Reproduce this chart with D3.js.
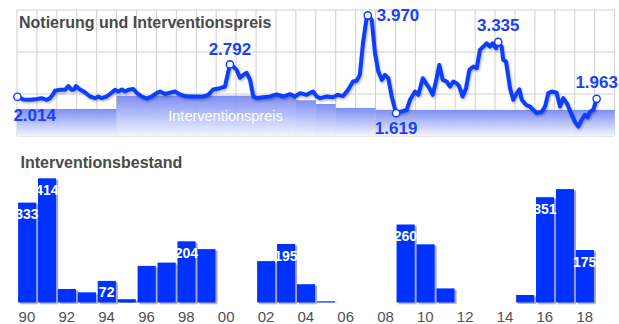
<!DOCTYPE html>
<html>
<head>
<meta charset="utf-8">
<script src="https://cdn.jsdelivr.net/npm/d3@7"></script>
<style>
  html, body { margin: 0; padding: 0; background: #fff; }
  svg { display: block; }
</style>
</head>
<body>
<svg id="chart" width="619" height="324"></svg>
<script>
// Market quotation (€/kg), sampled points: decimal year and value
const priceYears = [
  1990.02, 1990.32, 1990.65, 1990.99, 1991.24, 1991.49, 1991.66, 1991.82, 1991.91, 1992.16,
  1992.41, 1992.58, 1992.75, 1992.86, 1992.96, 1993.16, 1993.41, 1993.66, 1993.92, 1994.08,
  1994.25, 1994.50, 1994.67, 1994.92, 1995.09, 1995.26, 1995.42, 1995.59, 1995.84, 1996.01,
  1996.26, 1996.51, 1996.76, 1997.01, 1997.18, 1997.43, 1997.68, 1997.93, 1998.18, 1998.43,
  1998.68, 1999.02, 1999.35, 1999.60, 1999.85, 2000.19, 2000.44, 2000.61, 2000.69, 2000.86,
  2001.03, 2001.19, 2001.36, 2001.53, 2001.70, 2001.86, 2002.03, 2002.36, 2002.70, 2003.04,
  2003.37, 2003.70, 2003.96, 2004.21, 2004.54, 2004.86, 2005.05, 2005.21, 2005.55, 2005.86,
  2006.11, 2006.37, 2006.62, 2006.87, 2007.05, 2007.21, 2007.37, 2007.56, 2007.61, 2007.81,
  2007.97, 2008.14, 2008.31, 2008.47, 2008.64, 2008.81, 2009.03, 2009.23, 2009.56, 2009.73,
  2009.98, 2010.15, 2010.37, 2010.53, 2010.70, 2010.87, 2011.03, 2011.20, 2011.37, 2011.57,
  2011.74, 2011.90, 2012.07, 2012.20, 2012.37, 2012.54, 2012.71, 2012.91, 2013.08, 2013.24,
  2013.41, 2013.58, 2013.74, 2013.88, 2014.05, 2014.16, 2014.33, 2014.41, 2014.55, 2014.75,
  2014.91, 2015.09, 2015.22, 2015.34, 2015.55, 2015.75, 2015.92, 2016.09, 2016.34, 2016.51,
  2016.67, 2016.84, 2017.09, 2017.26, 2017.42, 2017.60, 2017.85, 2018.01, 2018.18, 2018.35,
  2018.51, 2018.65, 2018.76, 2018.93, 2019.10
];
const priceValues = [
  2.014, 1.95, 1.94, 1.96, 1.98, 1.94, 1.98, 2.08, 2.16, 2.18,
  2.18, 2.27, 2.18, 2.19, 2.27, 2.19, 2.12, 2.02, 1.98, 2.02,
  1.98, 2.02, 2.08, 2.18, 2.14, 2.19, 2.14, 2.18, 2.20, 2.11,
  2.02, 1.97, 2.02, 2.10, 2.14, 2.08, 2.11, 2.14, 2.07, 2.03,
  2.02, 2.02, 2.02, 2.06, 2.19, 2.22, 2.26, 2.62, 2.792, 2.74,
  2.66, 2.47, 2.54, 2.59, 2.42, 2.02, 1.98, 2.00, 2.02, 2.07,
  2.02, 2.08, 2.02, 2.10, 2.06, 2.14, 2.02, 1.98, 2.02, 2.00,
  2.06, 2.03, 2.18, 2.38, 2.40, 2.54, 3.31, 3.94, 3.970, 3.86,
  3.07, 2.62, 2.42, 2.54, 2.46, 2.02, 1.619, 1.65, 1.70, 1.94,
  2.14, 2.06, 2.46, 2.34, 2.22, 2.06, 2.38, 2.78, 2.42, 2.38,
  2.26, 2.38, 2.34, 2.26, 2.02, 2.22, 2.66, 2.74, 2.70, 3.14,
  3.22, 3.30, 3.22, 3.30, 3.18, 3.335, 3.22, 2.90, 2.86, 2.22,
  1.94, 2.10, 2.19, 1.94, 1.82, 1.78, 1.70, 1.62, 1.65, 1.78,
  2.10, 2.14, 2.11, 1.78, 1.98, 1.86, 1.58, 1.41, 1.30, 1.46,
  1.58, 1.52, 1.65, 1.70, 1.963
];
// Indices of the highlighted quotations (first, peaks, low, last)
const markedIndex = [0, 48, 78, 86, 115, 144];

// Intervention price steps
const interventionStart = [1990, 1995, 2004, 2005, 2006, 2008];
const interventionEnd   = [1995, 2004, 2005, 2006, 2008, 2020];
const interventionValue = [1.72, 2.04, 1.93, 1.84, 1.745, 1.698];

// Horizontal grid levels of the price panel
const priceGrid = [1.07, 2.08, 3.09, 4.1];

// Intervention stocks (1000 t) per year
const stockYears = d3.range(1990, 2019);
const stockValues = [333, 414, 45, 34, 72, 11, 122, 133, 204, 178,
                     0, 0, 138, 195, 61, 4, 0, 0, 0, 260,
                     194, 47, 0, 0, 0, 25, 351, 378, 175];
const stockLabelled = [1990, 1991, 1994, 1998, 2003, 2009, 2016, 2018];
const tickYears = d3.range(1990, 2019, 2);

const svg = d3.select("#chart");
const defs = svg.append("defs");

const blue = "#0a3cff";
const sans = "'Liberation Sans', Arial, sans-serif";
const narrow = "'Liberation Sans Narrow', 'Arial Narrow', sans-serif";

// gradient for the intervention price band
const grad = defs.append("linearGradient").attr("id", "bandGrad")
  .attr("x1", 0).attr("y1", 0).attr("x2", 0).attr("y2", 1);
grad.append("stop").attr("offset", "0%").attr("stop-color", "#7689f2");
grad.append("stop").attr("offset", "100%").attr("stop-color", "#f2f4ff");

const lineShadow = defs.append("filter").attr("id", "lineShadow")
  .attr("x", "-5%").attr("y", "-20%").attr("width", "110%").attr("height", "140%");
lineShadow.append("feDropShadow").attr("dx", 1).attr("dy", 1.5)
  .attr("stdDeviation", 1).attr("flood-color", "#000").attr("flood-opacity", 0.3);

const barShadow = defs.append("filter").attr("id", "barShadow")
  .attr("x", "-20%").attr("y", "-10%").attr("width", "140%").attr("height", "120%");
barShadow.append("feDropShadow").attr("dx", 2).attr("dy", 1.5)
  .attr("stdDeviation", 0.6).attr("flood-color", "#000").attr("flood-opacity", 0.35);

// ---------- scales ----------
const x = d3.scaleLinear().domain([1990, 2020]).range([17, 614.6]);
const y = d3.scaleLinear().domain([1.07, 4.1]).range([136, 10]);

// ---------- price panel ----------
const pricePanel = svg.append("g");

// grid
pricePanel.selectAll("line.vgrid").data(d3.range(1990, 2021)).join("line")
  .attr("class", "vgrid")
  .attr("x1", d => x(d)).attr("x2", d => x(d))
  .attr("y1", y(4.1)).attr("y2", y(1.07))
  .attr("stroke", "#cfcfcf").attr("stroke-width", 1);
pricePanel.selectAll("line.hgrid").data(priceGrid).join("line")
  .attr("class", "hgrid")
  .attr("x1", x(1990)).attr("x2", x(2020))
  .attr("y1", d => y(d)).attr("y2", d => y(d))
  .attr("stroke", "#cfcfcf").attr("stroke-width", 1);

// intervention price band, laid over the grid
pricePanel.selectAll("rect.band").data(interventionValue).join("rect")
  .attr("class", "band")
  .attr("x", (d, i) => x(interventionStart[i]))
  .attr("width", (d, i) => x(interventionEnd[i]) - x(interventionStart[i]))
  .attr("y", d => y(d))
  .attr("height", d => y(1.07) - y(d))
  .attr("fill", "url(#bandGrad)")
  .attr("fill-opacity", 0.95);

pricePanel.append("text")
  .attr("x", 225.5).attr("y", 120.5)
  .attr("text-anchor", "middle")
  .attr("font-family", sans).attr("font-size", 14.5)
  .attr("fill", "#ffffff")
  .text("Interventionspreis");

pricePanel.append("text")
  .attr("x", 19).attr("y", 28)
  .attr("font-family", sans).attr("font-weight", "bold").attr("font-size", 16)
  .attr("fill", "#4a4a4a")
  .text("Notierung und Interventionspreis");

// quotation line
const pts = priceYears.map((t, i) => [t, priceValues[i]]);
const line = d3.line().x(d => x(d[0])).y(d => y(d[1])).curve(d3.curveLinear);
pricePanel.append("path").datum(pts)
  .attr("d", line)
  .attr("fill", "none")
  .attr("stroke", blue).attr("stroke-width", 4)
  .attr("stroke-linejoin", "round").attr("stroke-linecap", "round")
  .attr("filter", "url(#lineShadow)");

// highlighted points and their values
const labelPlacement = [
  { anchor: "start",  dx: -4, dy: 24 },
  { anchor: "middle", dx: 0,  dy: -9 },
  { anchor: "start",  dx: 9,  dy: 6 },
  { anchor: "middle", dx: 0,  dy: 21 },
  { anchor: "middle", dx: 0,  dy: -11 },
  { anchor: "middle", dx: 0,  dy: -11 }
];
const fmt = d3.format(".3f");
const marks = markedIndex.map(i => pts[i]);
pricePanel.selectAll("circle.mark").data(marks).join("circle")
  .attr("class", "mark")
  .attr("cx", d => x(d[0])).attr("cy", d => y(d[1])).attr("r", 3.6)
  .attr("fill", "#fff").attr("stroke", blue).attr("stroke-width", 1.4);
pricePanel.selectAll("text.val").data(marks).join("text")
  .attr("class", "val")
  .attr("x", (d, i) => x(d[0]) + labelPlacement[i].dx)
  .attr("y", (d, i) => y(d[1]) + labelPlacement[i].dy)
  .attr("text-anchor", (d, i) => labelPlacement[i].anchor)
  .attr("font-family", sans).attr("font-weight", "bold").attr("font-size", 17)
  .attr("fill", "#1a40ff")
  .text(d => fmt(d[1]));

// ---------- stock panel ----------
const yb = d3.scaleLinear().domain([0, 414]).range([302.5, 178.3]);
const stockPanel = svg.append("g");

stockPanel.append("text")
  .attr("x", 20.5).attr("y", 168)
  .attr("font-family", sans).attr("font-weight", "bold").attr("font-size", 16)
  .attr("fill", "#4a4a4a")
  .text("Interventionsbestand");

const stock = stockYears.map((yr, i) => ({ yr, v: stockValues[i] }));
stockPanel.selectAll("rect.bar").data(stock.filter(d => d.v > 0)).join("rect")
  .attr("class", "bar")
  .attr("x", d => x(d.yr) + 1.1)
  .attr("width", d => x(d.yr + 1) - x(d.yr) - 1.8)
  .attr("y", d => yb(d.v))
  .attr("height", d => yb(0) - yb(d.v))
  .attr("fill", "#0033ff")
  .attr("filter", "url(#barShadow)");

stockPanel.selectAll("text.bv").data(stock.filter(d => stockLabelled.includes(d.yr))).join("text")
  .attr("class", "bv")
  .attr("x", d => (x(d.yr) + x(d.yr + 1)) / 2)
  .attr("y", d => yb(d.v) + 16.5)
  .attr("text-anchor", "middle")
  .attr("font-family", narrow).attr("font-weight", "bold").attr("font-size", 14)
  .attr("fill", "#fff")
  .text(d => d.v);

stockPanel.selectAll("text.tick").data(tickYears).join("text")
  .attr("class", "tick")
  .attr("x", d => (x(d) + x(d + 1)) / 2)
  .attr("y", 321.5)
  .attr("text-anchor", "middle")
  .attr("font-family", narrow).attr("font-size", 15)
  .attr("fill", "#505050")
  .text(d => String(d % 100).padStart(2, "0"));
</script>
</body>
</html>
